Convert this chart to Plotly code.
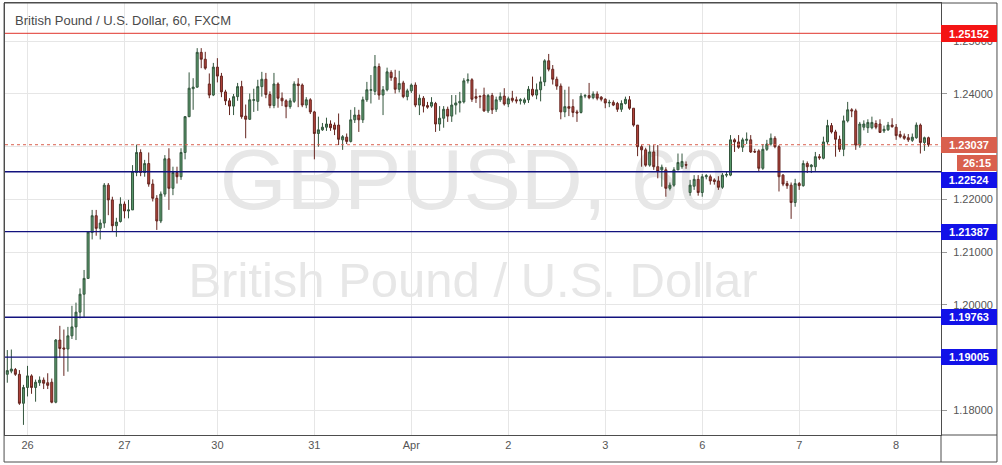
import plotly.graph_objects as go

# hourly GBPUSD bars, 25 Mar 19:00 -> 8 Apr 08:00
opens = [
    1.1868, 1.1874, 1.1877, 1.1868, 1.1813, 1.1843, 1.1865, 1.1843, 1.1852, 1.1857, 1.1852, 1.1853,
    1.1815, 1.1933, 1.1918, 1.1916, 1.1941, 1.1958, 1.1986, 1.2020, 1.2050, 1.2137, 1.2169, 1.2145,
    1.2155, 1.2227, 1.2199, 1.2150, 1.2158, 1.2191, 1.2178, 1.2180, 1.2251, 1.2289, 1.2251, 1.2268,
    1.2229, 1.2202, 1.2159, 1.2210, 1.2277, 1.2221, 1.2251, 1.2243, 1.2289, 1.2357, 1.2410, 1.2413,
    1.2479, 1.2466, 1.2419, 1.2398, 1.2451, 1.2434, 1.2404, 1.2387, 1.2377, 1.2395, 1.2414, 1.2358,
    1.2352, 1.2388, 1.2386, 1.2414, 1.2428, 1.2399, 1.2378, 1.2419, 1.2392, 1.2387, 1.2376, 1.2386,
    1.2419, 1.2417, 1.2379, 1.2389, 1.2366, 1.2325, 1.2332, 1.2337, 1.2343, 1.2341, 1.2341, 1.2313,
    1.2318, 1.2310, 1.2351, 1.2360, 1.2351, 1.2389, 1.2407, 1.2405, 1.2452, 1.2398, 1.2408, 1.2441,
    1.2431, 1.2409, 1.2421, 1.2395, 1.2406, 1.2417, 1.2379, 1.2392, 1.2378, 1.2377, 1.2382, 1.2343,
    1.2354, 1.2371, 1.2358, 1.2379, 1.2383, 1.2385, 1.2425, 1.2427, 1.2395, 1.2396, 1.2398, 1.2368,
    1.2397, 1.2371, 1.2389, 1.2396, 1.2381, 1.2392, 1.2389, 1.2387, 1.2384, 1.2389, 1.2409, 1.2398,
    1.2408, 1.2423, 1.2463, 1.2447, 1.2428, 1.2415, 1.2366, 1.2376, 1.2376, 1.2366, 1.2365, 1.2396,
    1.2397, 1.2393, 1.2400, 1.2394, 1.2390, 1.2383, 1.2384, 1.2382, 1.2371, 1.2382, 1.2389, 1.2373,
    1.2341, 1.2300, 1.2294, 1.2265, 1.2290, 1.2262, 1.2256, 1.2256, 1.2221, 1.2227, 1.2256, 1.2262,
    1.2266, 1.2213, 1.2225, 1.2238, 1.2213, 1.2243, 1.2243, 1.2237, 1.2235, 1.2223, 1.2246, 1.2246,
    1.2313, 1.2309, 1.2299, 1.2312, 1.2313, 1.2291, 1.2292, 1.2259, 1.2295, 1.2305, 1.2316, 1.2300,
    1.2246, 1.2230, 1.2227, 1.2194, 1.2230, 1.2226, 1.2268, 1.2262, 1.2262, 1.2281, 1.2278, 1.2309,
    1.2340, 1.2328, 1.2314, 1.2295, 1.2349, 1.2370, 1.2368, 1.2303, 1.2337, 1.2336, 1.2336, 1.2344,
    1.2343, 1.2330, 1.2332, 1.2341, 1.2337, 1.2323, 1.2320, 1.2317, 1.2312, 1.2317, 1.2341, 1.2308,
    1.2317,
]
highs = [
    1.1914, 1.1915, 1.1880, 1.1876, 1.1848, 1.1884, 1.1868, 1.1858, 1.1864, 1.1862, 1.1870, 1.1860,
    1.1935, 1.1960, 1.1953, 1.1958, 1.1998, 1.2004, 1.2031, 1.2066, 1.2140, 1.2180, 1.2180, 1.2162,
    1.2231, 1.2231, 1.2205, 1.2165, 1.2204, 1.2196, 1.2199, 1.2265, 1.2304, 1.2295, 1.2275, 1.2289,
    1.2238, 1.2208, 1.2215, 1.2284, 1.2297, 1.2262, 1.2262, 1.2297, 1.2358, 1.2441, 1.2430, 1.2487,
    1.2487, 1.2480, 1.2439, 1.2459, 1.2468, 1.2440, 1.2408, 1.2392, 1.2400, 1.2421, 1.2425, 1.2380,
    1.2401, 1.2410, 1.2427, 1.2442, 1.2440, 1.2405, 1.2440, 1.2422, 1.2403, 1.2390, 1.2392, 1.2424,
    1.2430, 1.2420, 1.2394, 1.2392, 1.2368, 1.2357, 1.2345, 1.2355, 1.2350, 1.2346, 1.2363, 1.2322,
    1.2325, 1.2370, 1.2375, 1.2370, 1.2395, 1.2423, 1.2436, 1.2474, 1.2458, 1.2415, 1.2450, 1.2445,
    1.2446, 1.2444, 1.2425, 1.2410, 1.2420, 1.2422, 1.2399, 1.2396, 1.2385, 1.2394, 1.2385, 1.2377,
    1.2377, 1.2376, 1.2398, 1.2398, 1.2404, 1.2430, 1.2439, 1.2430, 1.2410, 1.2397, 1.2412, 1.2400,
    1.2402, 1.2395, 1.2403, 1.2411, 1.2395, 1.2406, 1.2395, 1.2392, 1.2393, 1.2415, 1.2433, 1.2420,
    1.2433, 1.2466, 1.2476, 1.2455, 1.2433, 1.2420, 1.2408, 1.2414, 1.2390, 1.2370, 1.2402, 1.2400,
    1.2421, 1.2405, 1.2405, 1.2396, 1.2392, 1.2389, 1.2388, 1.2385, 1.2388, 1.2395, 1.2396, 1.2373,
    1.2341, 1.2303, 1.2298, 1.2303, 1.2303, 1.2303, 1.2266, 1.2261, 1.2232, 1.2261, 1.2287, 1.2287,
    1.2272, 1.2237, 1.2246, 1.2246, 1.2248, 1.2248, 1.2247, 1.2240, 1.2244, 1.2250, 1.2252, 1.2322,
    1.2316, 1.2322, 1.2317, 1.2327, 1.2322, 1.2296, 1.2295, 1.2305, 1.2313, 1.2325, 1.2320, 1.2303,
    1.2248, 1.2235, 1.2232, 1.2239, 1.2233, 1.2274, 1.2272, 1.2267, 1.2290, 1.2286, 1.2319, 1.2351,
    1.2345, 1.2332, 1.2321, 1.2359, 1.2385, 1.2373, 1.2372, 1.2347, 1.2350, 1.2352, 1.2357, 1.2350,
    1.2352, 1.2340, 1.2347, 1.2354, 1.2343, 1.2330, 1.2325, 1.2324, 1.2325, 1.2346, 1.2344, 1.2319,
    1.2319,
]
lows = [
    1.1852, 1.1870, 1.1865, 1.1810, 1.1772, 1.1826, 1.1831, 1.1816, 1.1846, 1.1840, 1.1840, 1.1813,
    1.1813, 1.1900, 1.1865, 1.1873, 1.1935, 1.1933, 1.1974, 1.1975, 1.2050, 1.2124, 1.2131, 1.2124,
    1.2146, 1.2170, 1.2139, 1.2129, 1.2156, 1.2164, 1.2164, 1.2180, 1.2244, 1.2244, 1.2243, 1.2224,
    1.2196, 1.2142, 1.2155, 1.2205, 1.2180, 1.2208, 1.2230, 1.2237, 1.2276, 1.2356, 1.2370, 1.2412,
    1.2449, 1.2446, 1.2392, 1.2396, 1.2422, 1.2394, 1.2379, 1.2360, 1.2360, 1.2387, 1.2353, 1.2316,
    1.2351, 1.2366, 1.2368, 1.2395, 1.2392, 1.2373, 1.2373, 1.2374, 1.2377, 1.2354, 1.2372, 1.2383,
    1.2375, 1.2375, 1.2373, 1.2362, 1.2276, 1.2300, 1.2330, 1.2330, 1.2330, 1.2322, 1.2303, 1.2294,
    1.2305, 1.2308, 1.2345, 1.2328, 1.2345, 1.2385, 1.2382, 1.2398, 1.2389, 1.2360, 1.2405, 1.2425,
    1.2401, 1.2403, 1.2392, 1.2388, 1.2402, 1.2375, 1.2360, 1.2365, 1.2372, 1.2374, 1.2328, 1.2330,
    1.2336, 1.2347, 1.2347, 1.2361, 1.2365, 1.2382, 1.2420, 1.2385, 1.2383, 1.2373, 1.2366, 1.2364,
    1.2362, 1.2366, 1.2385, 1.2378, 1.2375, 1.2384, 1.2382, 1.2380, 1.2380, 1.2383, 1.2395, 1.2390,
    1.2386, 1.2415, 1.2443, 1.2418, 1.2408, 1.2352, 1.2356, 1.2358, 1.2356, 1.2347, 1.2363, 1.2392,
    1.2390, 1.2390, 1.2388, 1.2386, 1.2373, 1.2375, 1.2377, 1.2366, 1.2366, 1.2380, 1.2370, 1.2338,
    1.2282, 1.2262, 1.2262, 1.2262, 1.2256, 1.2240, 1.2224, 1.2205, 1.2217, 1.2224, 1.2256, 1.2258,
    1.2258, 1.2207, 1.2218, 1.2207, 1.2205, 1.2238, 1.2228, 1.2228, 1.2218, 1.2220, 1.2242, 1.2244,
    1.2290, 1.2296, 1.2290, 1.2305, 1.2288, 1.2288, 1.2253, 1.2256, 1.2292, 1.2302, 1.2297, 1.2215,
    1.2225, 1.2220, 1.2163, 1.2186, 1.2218, 1.2224, 1.2250, 1.2250, 1.2254, 1.2275, 1.2276, 1.2305,
    1.2325, 1.2281, 1.2290, 1.2282, 1.2346, 1.2356, 1.2294, 1.2298, 1.2331, 1.2326, 1.2333, 1.2333,
    1.2326, 1.2326, 1.2330, 1.2336, 1.2313, 1.2316, 1.2313, 1.2309, 1.2309, 1.2315, 1.2287, 1.2292,
    1.2300,
]
closes = [
    1.1875, 1.1878, 1.1868, 1.1813, 1.1843, 1.1865, 1.1843, 1.1853, 1.1857, 1.1851, 1.1847, 1.1815,
    1.1933, 1.1917, 1.1916, 1.1941, 1.1958, 1.1986, 1.2020, 1.2050, 1.2138, 1.2169, 1.2145, 1.2155,
    1.2227, 1.2199, 1.2150, 1.2157, 1.2191, 1.2178, 1.2180, 1.2253, 1.2289, 1.2251, 1.2268, 1.2229,
    1.2202, 1.2159, 1.2210, 1.2277, 1.2221, 1.2251, 1.2243, 1.2289, 1.2357, 1.2411, 1.2413, 1.2479,
    1.2466, 1.2449, 1.2398, 1.2451, 1.2434, 1.2404, 1.2387, 1.2377, 1.2395, 1.2414, 1.2357, 1.2352,
    1.2389, 1.2389, 1.2414, 1.2428, 1.2399, 1.2378, 1.2419, 1.2392, 1.2387, 1.2376, 1.2387, 1.2419,
    1.2416, 1.2379, 1.2389, 1.2366, 1.2325, 1.2332, 1.2337, 1.2343, 1.2336, 1.2333, 1.2314, 1.2319,
    1.2310, 1.2351, 1.2360, 1.2351, 1.2389, 1.2408, 1.2408, 1.2452, 1.2398, 1.2408, 1.2442, 1.2431,
    1.2409, 1.2420, 1.2395, 1.2406, 1.2417, 1.2379, 1.2392, 1.2377, 1.2375, 1.2384, 1.2343, 1.2354,
    1.2371, 1.2358, 1.2379, 1.2383, 1.2386, 1.2425, 1.2427, 1.2390, 1.2392, 1.2395, 1.2368, 1.2397,
    1.2370, 1.2389, 1.2395, 1.2381, 1.2391, 1.2388, 1.2387, 1.2389, 1.2389, 1.2409, 1.2398, 1.2408,
    1.2423, 1.2463, 1.2447, 1.2428, 1.2415, 1.2366, 1.2376, 1.2373, 1.2365, 1.2364, 1.2396, 1.2397,
    1.2393, 1.2400, 1.2392, 1.2390, 1.2383, 1.2384, 1.2379, 1.2371, 1.2382, 1.2390, 1.2373, 1.2341,
    1.2300, 1.2294, 1.2265, 1.2290, 1.2262, 1.2253, 1.2261, 1.2221, 1.2227, 1.2256, 1.2270, 1.2272,
    1.2265, 1.2227, 1.2238, 1.2213, 1.2243, 1.2245, 1.2235, 1.2234, 1.2223, 1.2246, 1.2247, 1.2313,
    1.2309, 1.2299, 1.2313, 1.2314, 1.2290, 1.2290, 1.2259, 1.2295, 1.2305, 1.2316, 1.2300, 1.2243,
    1.2229, 1.2226, 1.2194, 1.2230, 1.2226, 1.2268, 1.2262, 1.2265, 1.2281, 1.2279, 1.2309, 1.2340,
    1.2328, 1.2314, 1.2295, 1.2349, 1.2370, 1.2368, 1.2303, 1.2343, 1.2343, 1.2346, 1.2346, 1.2337,
    1.2327, 1.2333, 1.2341, 1.2338, 1.2321, 1.2319, 1.2316, 1.2313, 1.2318, 1.2341, 1.2308, 1.2317,
    1.23037,
]

day_ticks = [5, 29, 52, 76, 100, 124, 148, 172, 196, 220]
day_labels = ["26", "27", "30", "31", "Apr", "2", "3", "6", "7", "8"]

# price scale: 1.19 and 1.23 sit fully under the level labels, so they show no text
price_ticks = [1.18, 1.19, 1.20, 1.21, 1.22, 1.23, 1.24, 1.25]
price_labels = ["1.18000", "", "1.20000", "1.21000", "1.22000", "", "1.24000", "1.25000"]

resistance = [1.25152]
supports = [1.22524, 1.21387, 1.19763, 1.19005]
last_price = 1.23037
countdown = "26:15"

bar_index = list(range(len(closes)))

FONT = "Arial, Liberation Sans, sans-serif"
GREY = "#555555"
FRAME = "#4d4d4d"

fig = go.Figure()
fig.add_trace(go.Candlestick(
    x=bar_index, open=opens, high=highs, low=lows, close=closes,
    increasing=dict(line=dict(color="#33563d", width=1), fillcolor="#5a9a6c"),
    decreasing=dict(line=dict(color="#65251f", width=1), fillcolor="#b4453d"),
    whiskerwidth=0, showlegend=False, hoverinfo="skip",
))

shapes = []
annotations = []

# watermark, behind the candles
shapes.append(dict(type="rect", xref="paper", yref="paper", x0=0, x1=1, y0=0.55, y1=0.67,
                   line=dict(width=0), layer="between",
                   label=dict(text="GBPUSD, 60", textposition="middle center",
                              font=dict(family=FONT, size=86, color="#e7e7e7"))))
shapes.append(dict(type="rect", xref="paper", yref="paper", x0=0, x1=1, y0=0.32, y1=0.42,
                   line=dict(width=0), layer="between",
                   label=dict(text="British Pound / U.S. Dollar", textposition="middle center",
                              font=dict(family=FONT, size=49, color="#e7e7e7"))))

for lvl in resistance:
    shapes.append(dict(type="line", xref="paper", x0=0, x1=1, y0=lvl, y1=lvl,
                       line=dict(color="#e0342c", width=1), layer="above"))
    annotations.append(dict(x=1, xref="paper", y=lvl, yref="y", text=f"{lvl:.5f}",
                            xanchor="left", yanchor="middle", showarrow=False,
                            bgcolor="#f41414", width=56, height=17, borderpad=0, borderwidth=0,
                            font=dict(family=FONT, size=11, color="white", weight="bold")))

for i, lvl in enumerate(supports):
    shapes.append(dict(type="line", xref="paper", x0=0, x1=1, y0=lvl, y1=lvl,
                       line=dict(color="#12127e", width=1.3), layer="above"))
    annotations.append(dict(x=1, xref="paper", y=lvl, yref="y", text=f"{lvl:.5f}",
                            xanchor="left", yanchor="middle", showarrow=False,
                            yshift=-8 if i == 0 else 0,
                            bgcolor="#1212e8", width=56, height=16, borderpad=0, borderwidth=0,
                            font=dict(family=FONT, size=11, color="white", weight="bold")))

# last price
shapes.append(dict(type="line", xref="paper", x0=0, x1=1, y0=last_price, y1=last_price,
                   line=dict(color="#d9614f", width=1, dash="dot"), layer="above"))
annotations.append(dict(x=1, xref="paper", y=last_price, yref="y", text=f"{last_price:.5f}",
                        xanchor="left", yanchor="middle", showarrow=False,
                        bgcolor="#d9604e", width=56, height=16, borderpad=0, borderwidth=0,
                        font=dict(family=FONT, size=11, color="white", weight="bold")))
annotations.append(dict(x=1, xref="paper", y=last_price, yref="y", text=countdown,
                        xanchor="left", yanchor="middle", showarrow=False,
                        xshift=16, yshift=-18,
                        bgcolor="#d9604e", width=40, height=16, borderpad=0, borderwidth=0,
                        font=dict(family=FONT, size=11, color="white", weight="bold")))

# title
annotations.append(dict(x=0, xref="paper", y=1, yref="paper", xshift=8, yshift=-17,
                        xanchor="left", yanchor="middle", showarrow=False,
                        text="British Pound / U.S. Dollar, 60, FXCM",
                        font=dict(family=FONT, size=13, color="#4a4a4a")))

# outer frame and price-axis separator
shapes.append(dict(type="rect", xref="paper", yref="paper", x0=-0.001, x1=1.0598,
                   y0=-0.0625, y1=1.0, line=dict(color=FRAME, width=1), layer="above"))
shapes.append(dict(type="line", xref="paper", yref="paper", x0=1, x1=1, y0=-0.0625, y1=0,
                   line=dict(color=FRAME, width=1), layer="above"))
shapes.append(dict(type="line", xref="paper", yref="paper", x0=1, x1=1.0598, y0=0, y1=0,
                   line=dict(color=FRAME, width=1), layer="above"))

fig.update_layout(
    width=1002, height=465,
    margin=dict(l=5, r=61, t=3, b=30),
    paper_bgcolor="white", plot_bgcolor="white",
    shapes=shapes, annotations=annotations,
    showlegend=False,
    xaxis=dict(range=[-0.57, 231.1], tickvals=day_ticks, ticktext=day_labels,
               showgrid=True, gridcolor="#e6e6e6", gridwidth=1, zeroline=False,
               showline=True, mirror=True, linecolor=FRAME, linewidth=1,
               ticks="", tickfont=dict(family=FONT, size=11, color=GREY),
               rangeslider=dict(visible=False), fixedrange=True),
    yaxis=dict(side="right", range=[1.17528, 1.25727],
               tickvals=price_ticks, ticktext=price_labels,
               showgrid=True, gridcolor="#e6e6e6", gridwidth=1,
               zeroline=False, showline=True, mirror=True, linecolor=FRAME, linewidth=1,
               ticks="outside", ticklen=5, tickcolor="#9a9a9a", ticklabelstandoff=4,
               tickfont=dict(family=FONT, size=11, color=GREY), fixedrange=True),
)

fig.write_html("out.html", config={"displayModeBar": False},
               post_script="document.body.style.margin='0';")
